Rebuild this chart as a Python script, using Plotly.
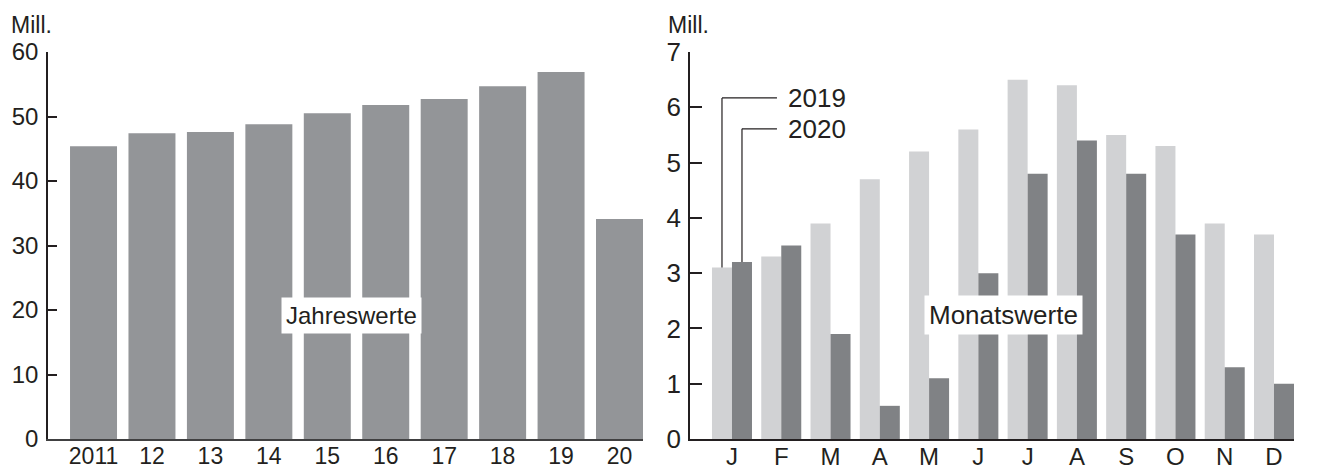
import plotly.graph_objects as go

# ---------------- data ----------------
years = ["2011", "12", "13", "14", "15", "16", "17", "18", "19", "20"]
annual = [45.4, 47.4, 47.6, 48.8, 50.5, 51.8, 52.7, 54.7, 56.9, 34.1]

months = ["J", "F", "M", "A", "M ", "J ", "J  ", "A ", "S", "O", "N", "D"]
month_labels = ["J", "F", "M", "A", "M", "J", "J", "A", "S", "O", "N", "D"]
v2019 = [3.1, 3.3, 3.9, 4.7, 5.2, 5.6, 6.5, 6.4, 5.5, 5.3, 3.9, 3.7]
v2020 = [3.2, 3.5, 1.9, 0.6, 1.1, 3.0, 4.8, 5.4, 4.8, 3.7, 1.3, 1.0]

left_ticks = [0, 10, 20, 30, 40, 50, 60]
right_ticks = [0, 1, 2, 3, 4, 5, 6, 7]

# ---------------- style ----------------
W, H = 1333, 472
OFF = 8  # page body margin offset
FONT = "Liberation Sans, Arial, sans-serif"
DARK = "#231f20"
C_ANNUAL = "#939598"
C_2019 = "#d1d2d4"
C_2020 = "#808285"

def px_x(p):
    return (p - OFF) / W

def px_y(p):
    return 1 - (p - OFF) / H

y_dom = [px_y(439), px_y(52)]

fig = go.Figure()

fig.add_trace(go.Bar(x=years, y=annual, marker_color=C_ANNUAL, marker_line_width=0,
                     xaxis="x", yaxis="y", showlegend=False, width=0.804))
fig.add_trace(go.Bar(x=months, y=v2019, marker_color=C_2019, marker_line_width=0,
                     xaxis="x2", yaxis="y2", offsetgroup="a", name="2019", showlegend=False))
fig.add_trace(go.Bar(x=months, y=v2020, marker_color=C_2020, marker_line_width=0,
                     xaxis="x2", yaxis="y2", offsetgroup="b", name="2020", showlegend=False))

bargap_right = 0.188

fig.update_layout(
    width=W, height=H,
    margin=dict(l=0, r=0, t=0, b=0, autoexpand=False),
    paper_bgcolor="white", plot_bgcolor="white",
    font=dict(family=FONT, color=DARK),
    barmode="group",
    bargap=bargap_right,
    bargroupgap=0,
    xaxis=dict(domain=[px_x(48), px_x(643)], type="category", range=[-0.779, 9.402],
               showline=True, linecolor="#404041", linewidth=2, ticks="", showgrid=False,
               tickfont=dict(size=23, family=FONT, color=DARK), zeroline=False,
               ticklabelstandoff=-5, anchor="y", automargin=False),
    yaxis=dict(domain=y_dom, range=[0, 60], tickvals=left_ticks, showline=True,
               linecolor=DARK, linewidth=1.5, ticks="inside", ticklen=9, tickwidth=1.5,
               tickcolor=DARK, showgrid=False, zeroline=False, ticklabelstandoff=3,
               tickfont=dict(size=24, family=FONT, color=DARK), anchor="x",
               automargin=False),
    xaxis2=dict(domain=[px_x(690), px_x(1294)], type="category", range=[-0.852, 11.406],
                showline=True, linecolor=DARK, linewidth=1.5, ticks="", showgrid=False,
                tickvals=months, ticktext=month_labels,
                tickfont=dict(size=24, family=FONT, color=DARK), zeroline=False,
                ticklabelstandoff=-5, anchor="y2", automargin=False),
    yaxis2=dict(domain=y_dom, range=[0, 7], tickvals=right_ticks, showline=True,
                linecolor=DARK, linewidth=1.5, ticks="inside", ticklen=12, tickwidth=1.5,
                tickcolor=DARK, showgrid=False, zeroline=False, ticklabelstandoff=2,
                tickfont=dict(size=26, family=FONT, color=DARK), anchor="x2",
                automargin=False),
)

annotations = [
    dict(text="Mill.", x=px_x(9), y=px_y(25), xref="paper", yref="paper",
         xanchor="left", yanchor="middle", showarrow=False,
         font=dict(size=23, family=FONT, color=DARK)),
    dict(text="Mill.", x=px_x(666), y=px_y(25), xref="paper", yref="paper",
         xanchor="left", yanchor="middle", showarrow=False,
         font=dict(size=23, family=FONT, color=DARK)),
    dict(text="Jahreswerte", x=px_x(351), y=px_y(315), xref="paper", yref="paper",
         xanchor="center", yanchor="middle", showarrow=False, bgcolor="white",
         borderpad=4, font=dict(size=24, family=FONT, color=DARK)),
    dict(text="Monatswerte", x=px_x(1003), y=px_y(315), xref="paper", yref="paper",
         xanchor="center", yanchor="middle", showarrow=False, bgcolor="white",
         borderpad=4, font=dict(size=26, family=FONT, color=DARK)),
]

# leader lines for the month series labels
half = (1 - bargap_right) / 4  # offset of each bar centre from category centre
lab_y = [6.17, 5.61]
end_x = 0.913
shapes = []
for i, (name, val, off) in enumerate([("2019", v2019[0], -half), ("2020", v2020[0], half)]):
    shapes.append(dict(type="line", xref="x2", yref="y2", x0=off, x1=off, y0=val, y1=lab_y[i],
                       line=dict(color=DARK, width=1.2)))
    shapes.append(dict(type="line", xref="x2", yref="y2", x0=off, x1=end_x, y0=lab_y[i], y1=lab_y[i],
                       line=dict(color=DARK, width=1.2)))
    annotations.append(dict(text=name, x=end_x + 0.18, y=lab_y[i], xref="x2", yref="y2",
                            xanchor="left", yanchor="middle", showarrow=False,
                            font=dict(size=26, family=FONT, color=DARK)))

# frame line at right edge
shapes.append(dict(type="line", xref="paper", yref="paper", x0=px_x(1330), x1=px_x(1330),
                   y0=0, y1=1, line=dict(color="#8a8a8a", width=2)))

fig.update_layout(annotations=annotations, shapes=shapes)

fig.write_html("out.html")
